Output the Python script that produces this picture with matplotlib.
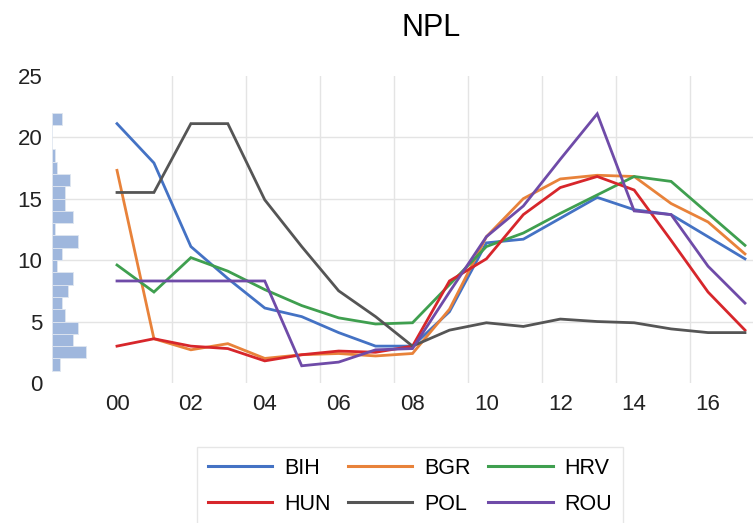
import numpy as np
import matplotlib
matplotlib.use("Agg")
import matplotlib.pyplot as plt

plt.rcParams['font.family'] = ['Liberation Sans', 'DejaVu Sans']

years = list(range(18))
year_labels = ['00', '02', '04', '06', '08', '10', '12', '14', '16']

bih = [21.1, 17.9, 11.1, 8.5, 6.1, 5.4, 4.1, 3.0, 3.0, 5.8, 11.4, 11.7, 13.4, 15.1, 14.1, 13.7, 11.9, 10.1]
bgr = [17.3, 3.6, 2.7, 3.2, 2.0, 2.3, 2.4, 2.2, 2.4, 6.0, 11.9, 15.0, 16.6, 16.9, 16.8, 14.6, 13.1, 10.5]
hrv = [9.6, 7.4, 10.2, 9.1, 7.6, 6.3, 5.3, 4.8, 4.9, 8.0, 11.1, 12.2, 13.8, 15.3, 16.8, 16.4, 13.8, 11.2]
hun = [3.0, 3.6, 3.0, 2.8, 1.8, 2.3, 2.6, 2.5, 3.0, 8.3, 10.1, 13.7, 15.9, 16.8, 15.7, 11.6, 7.4, 4.3]
pol = [15.5, 15.5, 21.1, 21.1, 14.9, 11.1, 7.5, 5.4, 3.0, 4.3, 4.9, 4.6, 5.2, 5.0, 4.9, 4.4, 4.1, 4.1]
rou = [8.3, 8.3, 8.3, 8.3, 8.3, 1.4, 1.7, 2.7, 2.8, 7.4, 11.9, 14.4, 18.2, 21.9, 14.0, 13.7, 9.5, 6.5]

series = [('BIH', bih, '#4472c4'), ('BGR', bgr, '#e8823a'), ('HRV', hrv, '#3f9f4f'),
          ('HUN', hun, '#d7262b'), ('POL', pol, '#555555'), ('ROU', rou, '#6f4ba8')]

# marginal histogram of all values (bin start, count)
hist_bins = list(range(1, 22))
hist_counts = [3, 13, 8, 10, 5, 4, 6, 8, 2, 4, 10, 1, 8, 5, 5, 7, 2, 1, 0, 0, 4]

W, H = 753, 523
fig = plt.figure(figsize=(W / 100, H / 100), dpi=100)

left, right, bottom, top = 52, 753, 383, 75.7
ax = fig.add_axes([left / W, 1 - bottom / H, (right - left) / W, (bottom - top) / H])
px_per_year = 36.94
ax.set_xlim((left - 117) / px_per_year, (right - 117) / px_per_year)
ax.set_ylim(0, 25)

lines = {}
for name, vals, col in series:
    ln, = ax.plot(years, vals, color=col, linewidth=2.0, solid_joinstyle='miter')
    lines[name] = ln

ax.set_xticks(range(0, 17, 2))
ax.set_xticklabels(year_labels)
ax.set_xticks(np.arange(1.5, 17, 2), minor=True)
ax.set_yticks(range(0, 26, 5))
ax.tick_params(axis='both', which='both', length=0, labelsize=16, colors='#222222')
ax.tick_params(axis='x', pad=8)
ax.tick_params(axis='y', pad=7)
ax.grid(which='minor', axis='x', color='#e4e4e4', linewidth=1)
ax.grid(which='major', axis='y', color='#e4e4e4', linewidth=1)
ax.grid(which='major', axis='x', visible=False)
gl = ax.get_ygridlines()
gl[0].set_visible(False)
gl[-1].set_visible(False)
ax.set_axisbelow(True)
for s in ax.spines.values():
    s.set_visible(False)

# histogram panel on the left
hax = fig.add_axes([left / W, 1 - bottom / H, 47 / W, (bottom - top) / H], sharey=ax)
hax.patch.set_visible(False)
hax.barh(hist_bins, hist_counts, height=1, align='edge', color='#9fb7dd',
         edgecolor='#dfe6f0', linewidth=0.6)
hax.set_xlim(0, 47 / 2.6)
hax.axis('off')

fig.text(431 / W, 1 - 27.5 / H, 'NPL', fontsize=22, ha='center', va='center')

order = ['BIH', 'HUN', 'BGR', 'POL', 'HRV', 'ROU']
leg = fig.legend([lines[n] for n in order], order, ncol=3, loc='upper left',
                 bbox_to_anchor=(197 / W, 1 - 447 / H), fontsize=15.5,
                 frameon=True, fancybox=False, edgecolor='#e0e0e0',
                 handlelength=3.0, handletextpad=0.55, columnspacing=0.8,
                 labelspacing=0.7, borderpad=0.5, borderaxespad=0)
for l in leg.get_lines():
    l.set_linewidth(2.2)

fig.savefig('out.png', dpi=100)
